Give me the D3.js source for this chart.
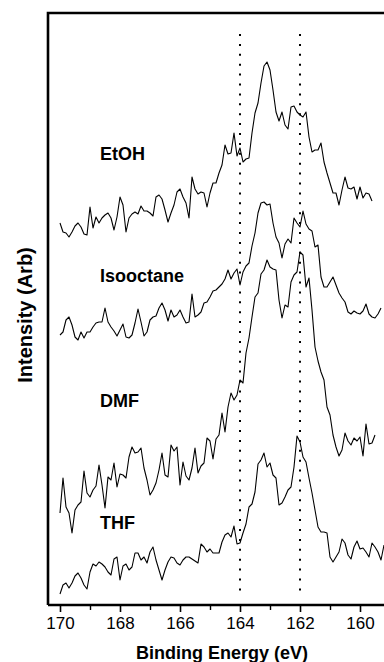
<!DOCTYPE html>
<html><head><meta charset="utf-8">
<script src="https://cdn.jsdelivr.net/npm/d3@7"></script>
<style>
html,body{margin:0;padding:0;background:#fff;}
svg{display:block;}
text{font-family:"Liberation Sans",Arial,sans-serif;fill:#000;}
</style></head>
<body>
<script>
// ---- data (binding energy starts at 170 eV, 0.1 eV step, intensity in arbitrary units incl. stacking offset) ----
const eStart = 170, eStep = 0.1;
const etoh = [382,373,372,368,373,379,382,378,371,370,398,377,388,382,387,390,392,387,375,388,
  408,400,373,387,391,393,391,399,394,394,392,389,408,410,406,395,383,392,400,413,
  416,408,402,387,428,416,411,413,412,398,412,422,422,432,440,460,451,452,472,449,
  457,443,446,447,472,492,502,522,539,543,535,515,493,484,493,480,476,498,499,493,
  490,488,493,468,453,455,455,462,443,432,422,412,412,400,415,428,417,416,418,406,
  418,407,412,411,404];
const isooctane = [270,273,285,288,280,268,265,273,267,273,273,278,282,283,283,297,283,278,274,269,
  275,281,268,267,270,282,296,283,269,273,285,288,289,297,302,295,284,295,288,290,
  295,288,282,283,311,288,290,293,302,303,308,314,315,318,321,326,335,326,332,336,
  320,333,339,342,359,372,392,402,403,400,401,382,368,362,347,361,366,362,387,382,
  378,394,381,376,374,358,360,328,318,318,323,328,320,312,307,303,293,291,294,292,
  291,294,301,291,288,287,291,297];
const dmf = [92,127,98,92,72,95,100,103,134,112,108,115,119,140,120,97,128,125,142,118,
  131,130,127,148,158,152,153,157,137,125,110,115,122,135,152,130,128,160,154,158,
  120,143,129,125,137,157,132,139,142,167,164,146,166,170,192,173,198,212,205,210,
  225,222,252,267,288,308,312,331,335,345,338,336,335,305,287,300,298,323,330,333,
  353,350,318,327,295,258,244,233,225,198,190,170,158,149,155,172,164,160,167,164,
  168,149,181,161,162,170];
const thf = [11,20,22,17,22,29,32,27,20,16,33,41,39,43,41,38,33,30,46,48,
  25,39,41,35,38,52,52,45,48,42,53,58,45,35,25,35,43,48,47,42,
  40,45,48,48,46,44,42,61,58,53,56,52,52,52,63,70,72,68,79,61,
  62,72,81,98,101,113,141,145,152,138,142,130,127,100,102,108,115,118,138,169,
  163,148,143,127,112,95,78,73,73,72,48,43,48,53,66,62,50,46,58,64,
  56,57,53,48,62,58,53,45,60];
const seriesNames = ["EtOH","Isooctane","DMF","THF"];
const seriesValues = [etoh, isooctane, dmf, thf];
const labelLevels = [445, 323, 198, 76];     // label baseline level (intensity units)
const refLines = [164, 162];                  // dotted reference energies
const majorTicks = [170,168,166,164,162,160];
const minorTicks = [169,167,165,163,161,159];
const xTitle = "Binding Energy (eV)";
const yTitle = "Intensity (Arb)";

// ---- layout ----
const W = 384, H = 662;
const svg = d3.select("body").append("svg").attr("width", W).attr("height", H);
const x = d3.scaleLinear().domain([170, 160]).range([60, 360]);
const y = d3.scaleLinear().domain([0, 590]).range([605, 15]);
const frameLeft = x(170.4), frameRight = x(158.6), frameTop = 13, frameBottom = y(0);

// frame (top and left, bottom via axis)
svg.append("path")
  .attr("d", `M${frameRight},${frameTop}H${frameLeft}V${frameBottom}`)
  .attr("fill","none").attr("stroke","#000").attr("stroke-width",2.6);

// dotted reference lines
svg.selectAll("line.ref").data(refLines).join("line")
  .attr("class","ref")
  .attr("x1", d=>x(d)).attr("x2", d=>x(d))
  .attr("y1", 34).attr("y2", 598)
  .attr("stroke","#000").attr("stroke-width",2)
  .attr("stroke-dasharray","2,7.9");

// spectra
const line = d3.line().x((d,i)=>x(eStart - i*eStep)).y(d=>y(d));
svg.selectAll("path.spec").data(seriesValues).join("path")
  .attr("class","spec")
  .attr("d", d=>line(d))
  .attr("fill","none").attr("stroke","#000").attr("stroke-width",1.1)
  .attr("stroke-linejoin","round");

// series labels
svg.selectAll("text.lab").data(seriesNames).join("text")
  .attr("class","lab")
  .attr("x", x(168.67)).attr("y", (d,i)=>y(labelLevels[i]))
  .attr("font-size", 18).attr("font-weight","bold")
  .text(d=>d);

// bottom axis
const axG = svg.append("g").attr("transform", `translate(0,${frameBottom})`);
axG.append("line").attr("x1", frameLeft).attr("x2", frameRight).attr("y1",0).attr("y2",0)
  .attr("stroke","#000").attr("stroke-width",2.4);
const ax = axG.append("g").call(d3.axisBottom(x).tickValues(majorTicks).tickSize(7).tickPadding(5).tickFormat(d3.format("d")));
ax.select(".domain").remove();
ax.selectAll(".tick line").attr("stroke-width",1.6);
ax.selectAll("text").attr("font-size",17).attr("font-family","Liberation Sans, Arial, sans-serif");
const axm = axG.append("g").call(d3.axisBottom(x).tickValues(minorTicks).tickSize(5).tickFormat(""));
axm.select(".domain").remove();
axm.selectAll(".tick line").attr("stroke-width",1.4);

// axis titles
svg.append("text").attr("x", 222).attr("y", 659).attr("text-anchor","middle")
  .attr("font-size",18).attr("font-weight","bold").text(xTitle);
svg.append("text").attr("transform","translate(32,315) rotate(-90)").attr("text-anchor","middle")
  .attr("font-size",20).attr("font-weight","bold").text(yTitle);
</script>
</body></html>
